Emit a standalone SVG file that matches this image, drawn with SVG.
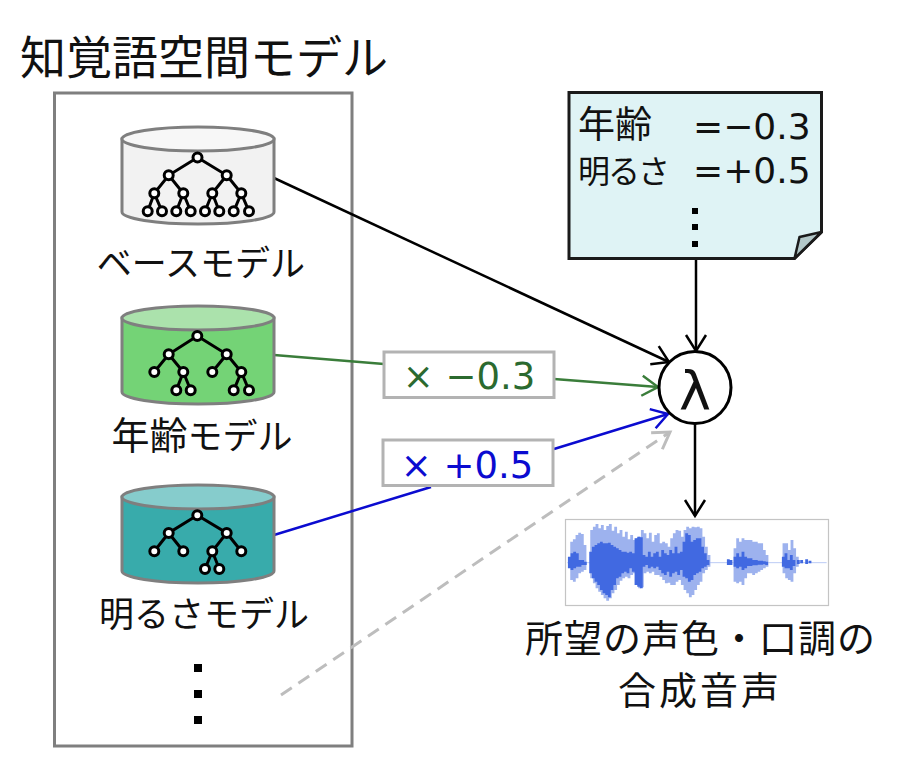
<svg xmlns="http://www.w3.org/2000/svg" width="900" height="769" viewBox="0 0 900 769">
<style>
text{font-family:"Noto Sans CJK JP","Noto Sans",sans-serif;fill:#111}
.l{font-size:35px;text-anchor:middle}
.k{font-size:38px}
.n{font-size:32px;letter-spacing:-2px}
.v{font-family:"DejaVu Sans",sans-serif;font-size:36px}
.cyl{stroke:#7f7f7f;stroke-width:3}
.t{fill:none;stroke:#000;stroke-width:3}
.tn circle{fill:#fff;stroke:#000;stroke-width:3}
.c{fill:none;stroke-width:2.500}
.box{fill:#fff;stroke:#b3b3b3;stroke-width:3}
.d{fill:#000}
</style>
<defs>
<marker id="ak" markerUnits="userSpaceOnUse" markerWidth="28" markerHeight="28" refX="22" refY="14" orient="auto"><path d="M6 4L22 14L6 24" fill="none" stroke="#000" stroke-width="2.500"/></marker>
<marker id="ag" markerUnits="userSpaceOnUse" markerWidth="28" markerHeight="28" refX="22" refY="14" orient="auto"><path d="M6 4L22 14L6 24" fill="none" stroke="#3a7d3a" stroke-width="2.500"/></marker>
<marker id="ab" markerUnits="userSpaceOnUse" markerWidth="28" markerHeight="28" refX="22" refY="14" orient="auto"><path d="M6 4L22 14L6 24" fill="none" stroke="#0b0bd0" stroke-width="2.500"/></marker>
<marker id="ay" markerUnits="userSpaceOnUse" markerWidth="28" markerHeight="28" refX="22" refY="14" orient="auto"><path d="M6 4L22 14L6 24" fill="none" stroke="#bdbdbd" stroke-width="3"/></marker>
</defs>

<rect id="space-box" x="54.500" y="93" width="297.500" height="653" fill="#fff" stroke="#7f7f7f" stroke-width="3"/>
<text x="20" y="74" style="font-size:46px">知覚語空間モデル</text>

<g id="connectors">
<path class="c" stroke="#000" d="M274 178L669 362" marker-end="url(#ak)"/>
<path class="c" stroke="#3a7d3a" d="M274 355L384 364"/>
<path class="c" stroke="#3a7d3a" d="M554 379L658 387" marker-end="url(#ag)"/>
<path class="c" stroke="#0b0bd0" d="M274 535L431 487"/>
<path class="c" stroke="#0b0bd0" d="M554 449L668 414" marker-end="url(#ab)"/>
<path class="c" stroke="#bdbdbd" style="stroke-width:3" stroke-dasharray="13 8" d="M281 695L670 432" marker-end="url(#ay)"/>
<path class="c" stroke="#000" d="M696 259V351" marker-end="url(#ak)"/>
<path class="c" stroke="#000" d="M695 424V516" marker-end="url(#ak)"/>
</g>

<g id="base-model">
<path class="cyl" fill="#f2f2f2" d="M122 139V212A76 12 0 0 0 274 212V139Z"/>
<ellipse class="cyl" cx="198" cy="139" rx="76" ry="12" fill="#f7f7f7"/>
<path class="t" d="M197.500 157.500L168.700 175.300L154.300 193.300L147.700 211.300M154.300 193.300L162 211.300M168.700 175.300L183.300 193.300L176.300 211.300M183.300 193.300L190.700 211.300M197.500 157.500L226.700 175.300L212.300 193.300L205 211.300M212.300 193.300L219.300 211.300M226.700 175.300L241.300 193.300L233.700 211.300M241.300 193.300L249 211.300"/>
<g class="tn"><circle cx="197.500" cy="157.500" r="4.500"/><circle cx="168.700" cy="175.300" r="4.500"/><circle cx="226.700" cy="175.300" r="4.500"/><circle cx="154.300" cy="193.300" r="4.500"/><circle cx="183.300" cy="193.300" r="4.500"/><circle cx="212.300" cy="193.300" r="4.500"/><circle cx="241.300" cy="193.300" r="4.500"/><circle cx="147.700" cy="211.300" r="4.500"/><circle cx="162" cy="211.300" r="4.500"/><circle cx="176.300" cy="211.300" r="4.500"/><circle cx="190.700" cy="211.300" r="4.500"/><circle cx="205" cy="211.300" r="4.500"/><circle cx="219.300" cy="211.300" r="4.500"/><circle cx="233.700" cy="211.300" r="4.500"/><circle cx="249" cy="211.300" r="4.500"/></g>
<text class="l" x="201" y="276">ベースモデル</text>
</g>

<g id="age-model">
<path class="cyl" fill="#74d376" d="M122 318V392A76 12 0 0 0 274 392V318Z"/>
<ellipse class="cyl" cx="198" cy="318" rx="76" ry="12" fill="#abe2ac"/>
<path class="t" d="M197.300 336L168.700 354.300L154.300 372M168.700 354.300L183.300 372L176.300 390.300M183.300 372L190.700 390.300M197.300 336L226.700 354.300L212.300 372M226.700 354.300L241.300 372L233.700 390.300M241.300 372L249 390.300"/>
<g class="tn"><circle cx="197.300" cy="336" r="4.500"/><circle cx="168.700" cy="354.300" r="4.500"/><circle cx="226.700" cy="354.300" r="4.500"/><circle cx="154.300" cy="372" r="4.500"/><circle cx="183.300" cy="372" r="4.500"/><circle cx="212.300" cy="372" r="4.500"/><circle cx="241.300" cy="372" r="4.500"/><circle cx="176.300" cy="390.300" r="4.500"/><circle cx="190.700" cy="390.300" r="4.500"/><circle cx="233.700" cy="390.300" r="4.500"/><circle cx="249" cy="390.300" r="4.500"/></g>
<text class="l" x="202" y="449"><tspan class="k">年齢</tspan>モデル</text>
</g>

<g id="brightness-model">
<path class="cyl" fill="#38abab" d="M122 497V571A76 12 0 0 0 274 571V497Z"/>
<ellipse class="cyl" cx="198" cy="497" rx="76" ry="12" fill="#86cccc"/>
<path class="t" d="M197.300 515.300L168.700 533L154.300 551.300M168.700 533L183.300 551.300M197.300 515.300L226.700 533L212.300 551.300L205 569M212.300 551.300L219.300 569M226.700 533L241.300 551.300"/>
<g class="tn"><circle cx="197.300" cy="515.300" r="4.500"/><circle cx="168.700" cy="533" r="4.500"/><circle cx="226.700" cy="533" r="4.500"/><circle cx="154.300" cy="551.300" r="4.500"/><circle cx="183.300" cy="551.300" r="4.500"/><circle cx="212.300" cy="551.300" r="4.500"/><circle cx="241.300" cy="551.300" r="4.500"/><circle cx="205" cy="569" r="4.500"/><circle cx="219.300" cy="569" r="4.500"/></g>
<text class="l" x="204" y="627">明るさモデル</text>
</g>

<g id="more-models">
<rect class="d" x="194" y="664" width="8" height="8"/><rect class="d" x="194" y="690" width="8" height="8"/><rect class="d" x="194" y="716" width="8" height="8"/>
</g>

<g id="note">
<path d="M569 92.500H821.500V232L794.500 258.500H569Z" fill="#dff3f5" stroke="#1a1a1a" stroke-width="3"/>
<path d="M821.500 232L799.500 237L794.500 258.500Z" fill="#b3c8c9" stroke="#1a1a1a" stroke-width="2.500" stroke-linejoin="round"/>
<text x="578" y="138" style="font-size:37px">年齢</text>
<text class="n" x="578" y="183">明るさ</text>
<text class="v" x="693" y="139">=−0.3</text>
<text class="v" x="693" y="183">=+0.5</text>
<rect class="d" x="692" y="208" width="6" height="6"/><rect class="d" x="692" y="224" width="6" height="6"/><rect class="d" x="692" y="241" width="6" height="6"/>
</g>

<g id="weight-age">
<rect class="box" x="384" y="352" width="170" height="45.500"/>
<text class="v" x="469" y="389" text-anchor="middle" style="fill:#2b6a2f;font-size:37px">× −0.3</text>
</g>
<g id="weight-brightness">
<rect class="box" x="383" y="440" width="170" height="45.500"/>
<text class="v" x="467" y="478" text-anchor="middle" style="fill:#0b0bd0;font-size:37px">× +0.5</text>
</g>

<g id="lambda">
<circle cx="695" cy="387.500" r="36" fill="#fff" stroke="#000" stroke-width="3"/>
<text x="695" y="410" text-anchor="middle" style="font-family:'DejaVu Sans',sans-serif;font-size:54px">λ</text>
</g>

<g id="waveform">
<rect x="565.500" y="519.500" width="263" height="86" fill="#fff" stroke="#c4c4c4" stroke-width="1.200"/>
<g transform="translate(560 510) scale(.3333)" fill="none">
<path stroke="#bccbf5" stroke-width="3" d="M22 158H800"/>
<path stroke="#9db2ee" stroke-width="8.500" d="M35 95V210M43 88V215M51 75V205M59 68V190M67 72V185M75 105V180M95 60V205M103 50V220M111 42V235M119 55V245M127 45V255M135 60V265M143 48V272M151 42V265M159 62V250M167 50V240M175 70V225M183 60V212M191 80V205M199 65V200M207 88V205M215 75V195M223 90V190M231 85V200M239 80V235M247 60V232M255 70V190M263 85V185M271 68V190M279 95V185M287 75V195M295 70V195M303 100V200M311 95V210M319 100V220M327 110V218M335 85V225M343 70V225M351 60V215M359 62V210M367 80V225M375 60V240M383 50V250M391 55V262M399 50V255M407 52V240M415 50V225M423 55V215M431 80V190M439 110V180M447 135V170M525 115V215M533 85V220M541 95V215M549 85V225M557 90V205M565 90V190M573 90V190M581 95V195M589 95V190M597 100V185M605 100V180M613 120V175M621 135V170M672 100V190M680 100V205M688 120V210M696 90V215M704 115V190M712 140V170"/>
<path stroke="#4169e1" stroke-width="8.500" d="M28 140V175M36 130V180M44 125V175M52 130V170M60 150V170M68 150V165M76 155V165M92 125V190M100 110V205M108 105V215M116 100V225M124 95V240M132 100V250M140 100V255M148 98V262M156 105V240M164 110V225M172 115V205M180 120V200M188 125V190M196 125V185M204 128V190M212 125V175M220 130V185M228 85V225M236 80V230M244 82V235M252 135V170M260 140V165M268 125V175M276 140V170M284 130V175M292 125V170M300 140V180M308 120V190M316 130V195M324 135V185M332 120V200M340 130V190M348 110V185M356 130V195M364 125V180M372 95V200M380 70V205M388 75V215M396 95V210M404 90V195M412 85V190M420 85V185M428 110V175M436 130V170M444 150V165M505 148V165M513 150V165M525 140V170M533 130V175M541 140V170M549 125V180M557 140V175M565 145V168M573 145V168M581 150V166M589 150V166M597 152V164M605 152V164M613 154V163M620 155V165M670 140V170M678 130V175M686 150V175M694 135V180M702 150V168M715 150V162M725 150V160M740 148V162M750 152V160"/>
</g>
</g>

<g id="result-label">
<text x="525" y="652" textLength="350" lengthAdjust="spacing" style="font-size:38px">所望の声色・口調の</text>
<text class="l" x="700" y="704" style="font-size:38px;letter-spacing:3px">合成音声</text>
</g>
</svg>
